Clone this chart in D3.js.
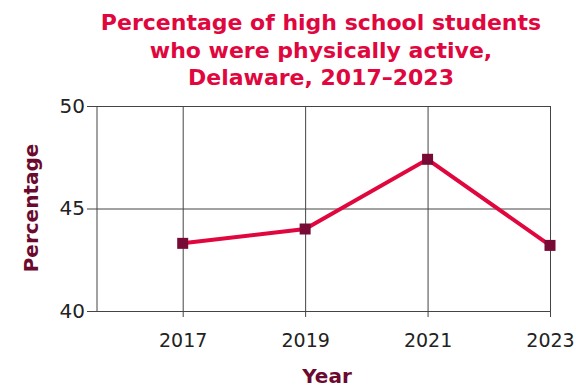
<!DOCTYPE html>
<html>
<head>
<meta charset="utf-8">
<script src="https://cdn.jsdelivr.net/npm/d3@7"></script>
<style>
  body { margin: 0; background: #fff; }
  text { font-family: "DejaVu Sans", "Noto Sans", sans-serif; }
</style>
</head>
<body>
<div class="chart"></div>
<script>
// data
var years = [2017, 2019, 2021, 2023];
var values = [43.3, 44.0, 47.4, 43.2];
var yTicks = [40, 45, 50];
var titleLines = ["Percentage of high school students", "who were physically active,", "Delaware, 2017\u20132023"];

var svgWidth = 576;
var svgHeight = 389;
var margin = { top: 106, right: 26, bottom: 78, left: 97 };
var width = svgWidth - margin.left - margin.right;
var height = svgHeight - margin.top - margin.bottom;

var svg = d3.select(".chart")
  .append("svg")
  .attr("width", svgWidth)
  .attr("height", svgHeight);

var chartGroup = svg.append("g")
  .attr("transform", `translate(${margin.left}, ${margin.top})`);

var xScale = d3.scaleLinear()
  .domain([2015.6, 2023])
  .range([0, width]);

var yScale = d3.scaleLinear()
  .domain([40, 50])
  .range([height, 0]);

// horizontal grid lines (with tick stub to the left)
chartGroup.append("g")
  .call(d3.axisLeft(yScale).tickValues(yTicks).tickSize(-width).tickFormat(d3.format("d")))
  .call(g => g.select(".domain").remove())
  .call(g => g.selectAll(".tick line").attr("stroke", "#444").attr("x1", -10))
  .call(g => g.selectAll(".tick text")
    .attr("x", -12)
    .attr("font-size", 20)
    .attr("fill", "#222"));

// vertical grid lines
chartGroup.append("g")
  .attr("transform", `translate(0, ${height})`)
  .call(d3.axisBottom(xScale).tickValues(years).tickSize(-height).tickFormat(d3.format("d")))
  .call(g => g.select(".domain").remove())
  .call(g => g.selectAll(".tick line").attr("stroke", "#444").attr("y1", 6))
  .call(g => g.selectAll(".tick text")
    .attr("y", 23)
    .attr("dy", "0.71em")
    .attr("font-size", 19)
    .attr("fill", "#222"));

// left axis line
chartGroup.append("line")
  .attr("x1", 0).attr("x2", 0)
  .attr("y1", 0).attr("y2", height)
  .attr("stroke", "#444");

// the line
var line = d3.line()
  .x((d, i) => xScale(years[i]))
  .y(d => yScale(d));

chartGroup.append("path")
  .datum(values)
  .attr("d", line)
  .attr("fill", "none")
  .attr("stroke", "#e0073f")
  .attr("stroke-width", 4);

// square markers
var size = 11;
chartGroup.selectAll(".marker")
  .data(values)
  .enter()
  .append("rect")
  .attr("class", "marker")
  .attr("x", (d, i) => xScale(years[i]) - size / 2)
  .attr("y", d => yScale(d) - size / 2)
  .attr("width", size)
  .attr("height", size)
  .attr("fill", "#780b35");

// title
svg.append("text")
  .attr("text-anchor", "middle")
  .attr("font-weight", "bold")
  .attr("font-size", 22)
  .attr("fill", "#e0073f")
  .selectAll("tspan")
  .data(titleLines)
  .enter()
  .append("tspan")
  .attr("x", 321)
  .attr("y", (d, i) => 30 + i * 27.5)
  .text(d => d);

// axis titles
svg.append("text")
  .attr("x", 327)
  .attr("y", 383)
  .attr("text-anchor", "middle")
  .attr("font-weight", "bold")
  .attr("font-size", 20)
  .attr("fill", "#6b0a2e")
  .text("Year");

svg.append("text")
  .attr("transform", "translate(38, 208) rotate(-90)")
  .attr("text-anchor", "middle")
  .attr("font-weight", "bold")
  .attr("font-size", 20)
  .attr("fill", "#6b0a2e")
  .text("Percentage");
</script>
</body>
</html>
